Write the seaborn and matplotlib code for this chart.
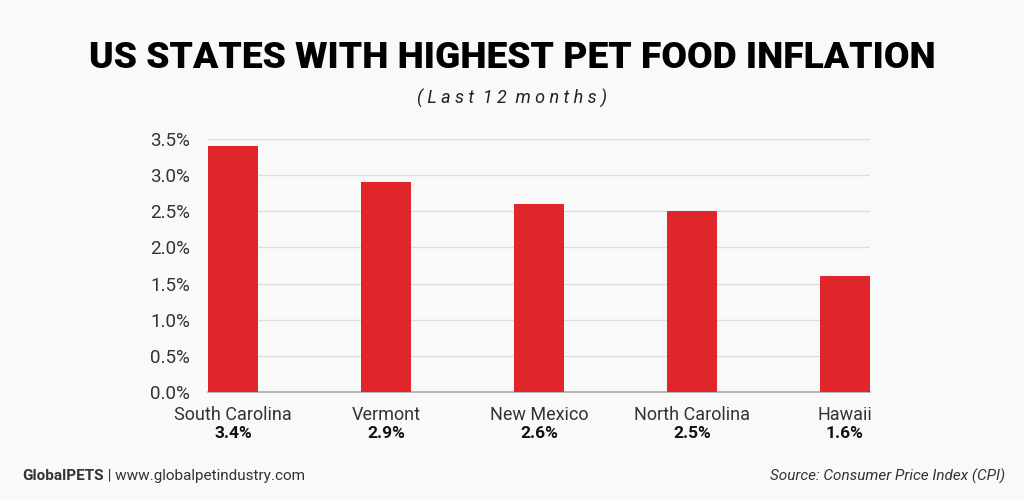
import matplotlib
matplotlib.use("Agg")
import matplotlib.pyplot as plt
import matplotlib.transforms as mtransforms
import seaborn as sns
import pandas as pd

states = ["South Carolina", "Vermont", "New Mexico", "North Carolina", "Hawaii"]
values = [3.4, 2.9, 2.6, 2.5, 1.6]
value_labels = ["3.4%", "2.9%", "2.6%", "2.5%", "1.6%"]
yticks = [0.0, 0.5, 1.0, 1.5, 2.0, 2.5, 3.0, 3.5]
ytick_labels = ["0.0%", "0.5%", "1.0%", "1.5%", "2.0%", "2.5%", "3.0%", "3.5%"]
title = "US STATES WITH HIGHEST PET FOOD INFLATION"
subtitle = "(Last 12 months)"
footer_brand = "GlobalPETS"
footer_site = " | www.globalpetindustry.com"
source = "Source: Consumer Price Index (CPI)"

sns.set_style("white")
plt.rcParams['font.family'] = ['Roboto', 'DejaVu Sans']

BG = "#f9f9f9"
RED = "#e1262b"
W, H = 1024, 500
fig = plt.figure(figsize=(W / 100, H / 100), dpi=100, facecolor=BG)
ax = fig.add_axes([208 / W, 1 - 392 / H, (870 - 208) / W, (392 - 139) / H])
ax.set_facecolor(BG)

df = pd.DataFrame({"state": states, "value": values})
sns.barplot(data=df, x="state", y="value", color=RED, width=0.33, ax=ax,
            saturation=1, edgecolor="none", zorder=3)
ax.set_xlim(-0.165, 4.165)
ax.set_ylim(0, 3.5)
ax.set_yticks(yticks)
ax.set_yticklabels(ytick_labels, fontsize=13.5, color="#333333")
ax.tick_params(axis="y", length=0, pad=13)
ax.grid(axis="y", color="#dddddd", linewidth=1, zorder=0)
for s in ["top", "right", "left"]:
    ax.spines[s].set_visible(False)
ax.spines["bottom"].set_color("#aaaaaa")
ax.spines["bottom"].set_linewidth(1.2)
ax.set_xlabel("")
ax.set_ylabel("")
ax.set_xticks(range(len(states)))
ax.set_xticklabels(states, fontsize=13, color="#333333")
ax.tick_params(axis="x", length=0, pad=10)

trans = mtransforms.blended_transform_factory(ax.transData, fig.transFigure)
for i, lab in enumerate(value_labels):
    ax.text(i, 1 - 434 / H, lab, transform=trans, ha="center", va="center",
            fontsize=12.5, fontweight="bold", color="#111111")

# Title
t = fig.text(0.5, 1 - 58 / H, title, ha="center", va="center", fontsize=32,
             fontweight="heavy", color="#000000")
fig.canvas.draw()
r = fig.canvas.get_renderer()
bw = t.get_window_extent(r).width
t.set_fontsize(32 * 848 / bw)

fig.text(0.5, 1 - 98 / H, "  ".join(" ".join(w) for w in subtitle.split(" ")),
         ha="center", va="center", fontsize=13, fontstyle="italic",
         color="#222222")

# Footer
ft = fig.text(22 / W, 1 - 476 / H, footer_brand, ha="left", va="center",
              fontsize=11, fontweight="bold", color="#333333")
fig.canvas.draw()
ext = ft.get_window_extent(r)
fig.text(ext.x1 / W, 1 - 476 / H, footer_site, ha="left", va="center",
         fontsize=11, color="#333333")
fig.text(1005 / W, 1 - 476 / H, source, ha="right", va="center",
         fontsize=11, fontstyle="italic", color="#333333")

fig.savefig("out.png", dpi=100, facecolor=BG)
